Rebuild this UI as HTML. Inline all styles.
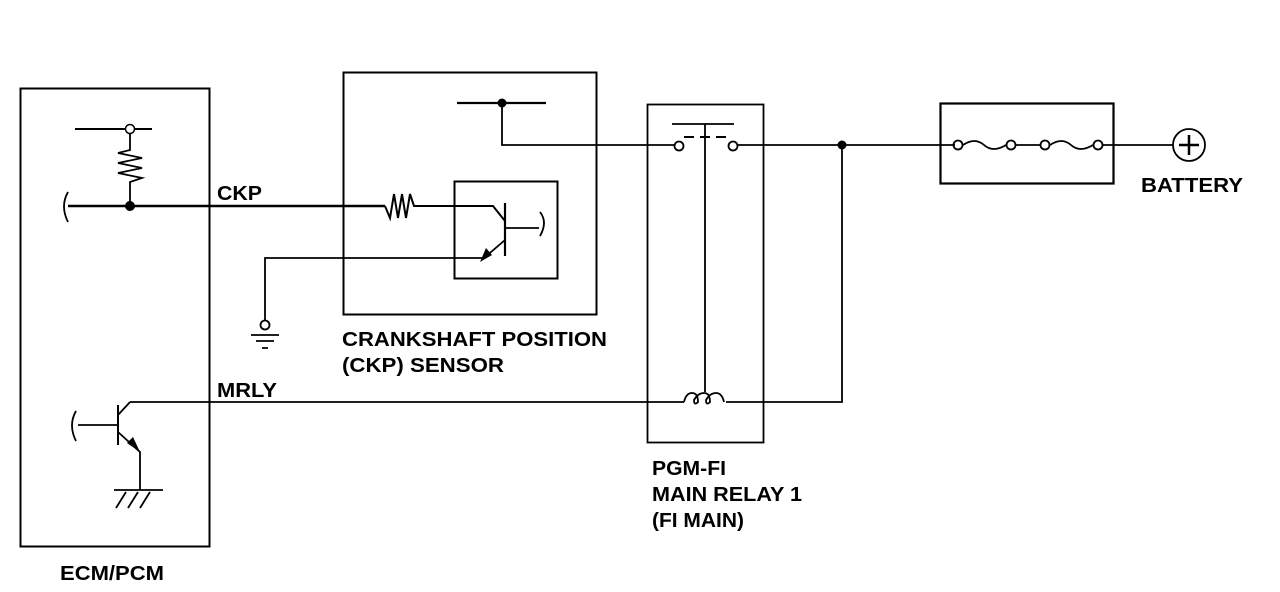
<!DOCTYPE html>
<html><head><style>body{margin:0;background:#fff}svg{display:block}text{font-family:"Liberation Sans",Arial,sans-serif;font-weight:bold;font-size:20px;fill:#000}</style></head><body>
<svg width="1280" height="592" viewBox="0 0 1280 592" xmlns="http://www.w3.org/2000/svg">
<g fill="none" stroke="#000" stroke-width="1.8">
<rect x="20.5" y="88.5" width="189" height="458" stroke-width="2"/>
<rect x="343.5" y="72.5" width="253" height="242" stroke-width="2"/>
<rect x="454.5" y="181.5" width="103" height="97" stroke-width="2"/>
<rect x="647.5" y="104.5" width="116" height="338"/>
<rect x="940.5" y="103.5" width="173" height="80" stroke-width="2.2"/>
<path d="M75 129H125M135 129H152" stroke-width="2"/>
<path d="M130 134V150L118 153L142 158L118 163L142 168L118 173L142 178L130 182V206"/>
<path d="M68 192Q60 206 68 222" />
<path d="M68 206H385" stroke-width="2.4"/>
<path d="M385 206L390 218L394 194L398 218L402 194L406 218L410 194L414 206H454" stroke-width="2"/>
<path d="M454 206H493L505 221" stroke-width="2"/>
<path d="M505 203V256" stroke-width="2.2"/>
<path d="M505 228H539"/>
<path d="M540 212Q548 222 540 236"/>
<path d="M505 240L484 258H265V320"/>
<circle cx="265" cy="325" r="4.5"/>
<path d="M251 335H279M256 341H274M262 348H268"/>
<path d="M457 103H546" stroke-width="2.2"/>
<path d="M502 103V145H675"/>
<circle cx="679" cy="146" r="4.5"/>
<circle cx="733" cy="146" r="4.5"/>
<path d="M672 124H734M705 124V392"/>
<path d="M684 137H694M700 137H710M716 137H726" stroke-width="2"/>
<path d="M738 145H955M842 145V402H726"/>
<path d="M130 402H684"/>
<path d="M684 402Q686 393 692 393Q698 393 698 402Q694 406 694 400Q698 393 704 393Q710 393 710 402Q706 406 706 400Q710 393 716 393Q722 393 724 402"/>
<circle cx="958" cy="145" r="4.5"/><circle cx="1011" cy="145" r="4.5"/><circle cx="1045" cy="145" r="4.5"/><circle cx="1098" cy="145" r="4.5"/>
<path d="M963 145Q975 137 984 145Q993 153 1006 145M1016 145H1040M1050 145Q1062 137 1071 145Q1080 153 1093 145M1103 145H1173"/>
<circle cx="1189" cy="145" r="16"/>
<path d="M1189 135V155M1179 145H1199" stroke-width="2.5"/>
<path d="M118 405V445" stroke-width="2"/>
<path d="M78 425H118"/>
<path d="M76 411Q68 425 76 441"/>
<path d="M118 415L130 402"/>
<path d="M118 432L140 452V490"/>
<path d="M114 490H163"/>
<path d="M116 508L126 492M128 508L138 492M140 508L150 492"/>
</g>
<g fill="#000">
<circle cx="130" cy="206" r="5"/>
<circle cx="502" cy="103" r="4.5"/>
<circle cx="842" cy="145" r="4.5"/>
<path d="M480 262L486 248L492 255Z"/>
<path d="M140 452L127 443L133 437Z"/>
</g>
<circle cx="130" cy="129" r="4.5" fill="#fff" stroke="#000" stroke-width="1.5"/>
<text x="217" y="200" textLength="45" lengthAdjust="spacingAndGlyphs">CKP</text>
<text x="217" y="397" textLength="60" lengthAdjust="spacingAndGlyphs">MRLY</text>
<text x="342" y="346" textLength="265" lengthAdjust="spacingAndGlyphs">CRANKSHAFT POSITION</text>
<text x="342" y="372" textLength="162" lengthAdjust="spacingAndGlyphs">(CKP) SENSOR</text>
<text x="652" y="475" textLength="74" lengthAdjust="spacingAndGlyphs">PGM-FI</text>
<text x="652" y="501" textLength="150" lengthAdjust="spacingAndGlyphs">MAIN RELAY 1</text>
<text x="652" y="527" textLength="92" lengthAdjust="spacingAndGlyphs">(FI MAIN)</text>
<text x="1141" y="192" textLength="102" lengthAdjust="spacingAndGlyphs">BATTERY</text>
<text x="60" y="580" textLength="104" lengthAdjust="spacingAndGlyphs">ECM/PCM</text>
</svg>
</body></html>
